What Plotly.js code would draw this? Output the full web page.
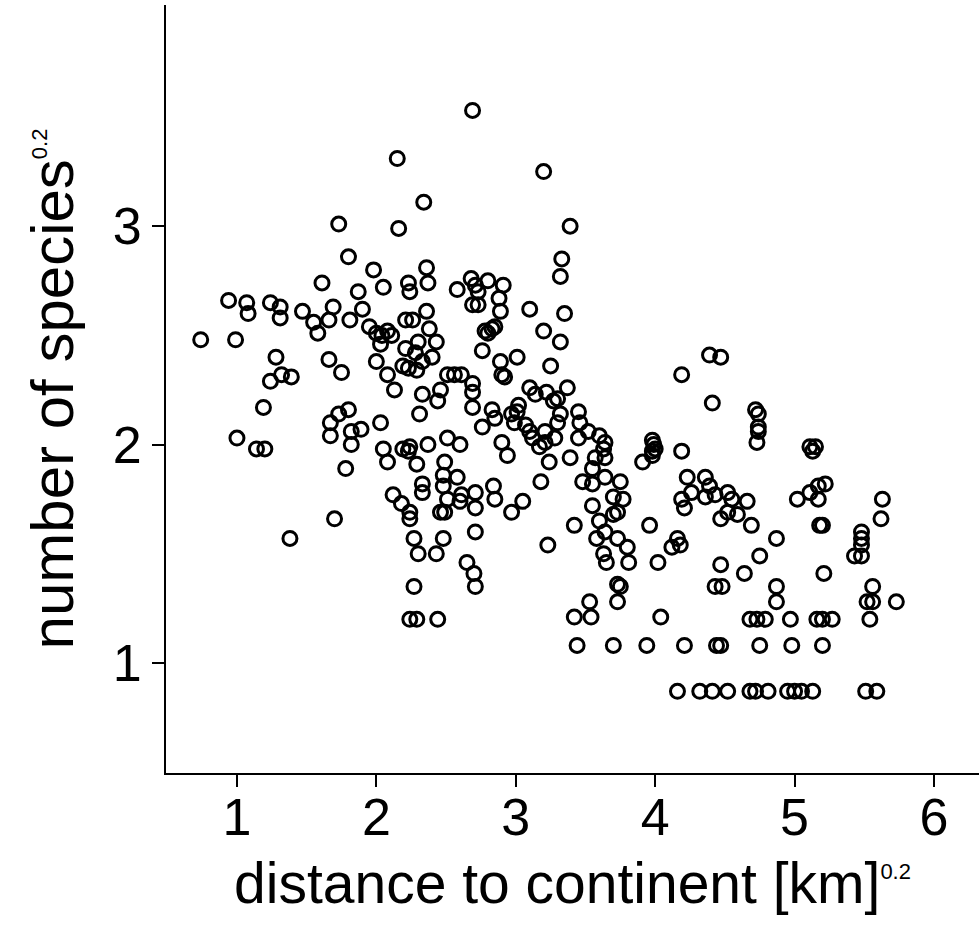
<!DOCTYPE html>
<html>
<head>
<meta charset="utf-8">
<script src="https://cdn.plot.ly/plotly-3.0.1.min.js"></script>
<style>
html,body{margin:0;padding:0;background:#fff;}
#chart{width:979px;height:942px;}
</style>
</head>
<body>
<div id="chart"></div>
<script>
// distance to continent [km]^0.2
const distance = [
1.73,1.80,1.61,1.87,1.98,0.94,1.07,1.08,1.24,1.31,1.31,1.47,1.55,1.58,1.66,1.69,1.81,1.90,1.95,2.00,
2.00,0.74,0.99,1.28,1.24,1.32,1.39,1.66,1.75,1.19,1.67,1.73,1.80,1.67,1.82,1.89,1.82,2.03,1.00,1.14,
1.20,1.78,1.38,1.70,2.69,2.15,3.20,2.34,2.16,2.05,2.23,2.24,2.36,2.37,2.58,2.68,2.71,2.80,2.91,
2.73,2.88,3.39,3.33,3.32,2.04,2.08,2.11,2.03,2.08,2.13,2.21,2.26,2.36,2.38,2.43,2.30,2.21,2.28,2.40,
2.33,2.19,2.23,2.29,2.51,2.56,2.61,2.46,2.33,2.44,2.31,2.69,2.69,2.69,2.69,2.73,2.89,2.78,2.80,2.83,
2.85,2.76,2.89,3.01,2.90,2.92,3.10,3.20,3.10,3.14,3.22,3.27,2.83,2.85,2.76,2.97,3.02,3.01,2.99,3.07,
3.10,3.12,3.21,3.21,3.17,3.24,3.18,2.05,2.08,2.19,2.24,2.23,2.37,2.29,2.51,2.60,2.49,2.48,2.58,2.90,
2.94,2.12,2.18,2.33,2.33,2.48,2.51,2.60,2.61,2.71,2.84,2.85,3.05,2.24,2.24,2.46,2.49,2.71,2.97,3.23,
2.71,2.27,2.48,2.30,2.43,2.65,2.70,2.71,2.27,2.24,2.29,2.44,3.35,3.32,3.25,3.37,3.30,3.32,3.30,3.45,
3.46,3.45,3.52,3.60,3.64,3.63,3.28,3.39,3.57,3.64,3.55,3.48,3.55,3.64,3.75,3.98,3.99,4.00,3.98,3.98,
3.91,4.19,4.19,4.39,4.47,4.41,4.23,4.26,4.36,4.39,4.43,4.52,3.70,3.77,3.55,4.19,4.21,4.36,4.55,4.52,
4.47,3.60,3.73,3.70,3.42,3.58,3.64,3.73,3.80,3.63,3.65,3.81,3.96,4.02,4.12,4.16,4.18,4.47,4.43,4.48,
3.73,3.75,3.73,3.53,3.42,3.54,4.04,3.44,3.70,3.94,4.21,4.44,4.47,4.16,4.32,4.41,4.52,4.72,4.74,4.74,
4.74,4.73,5.11,5.13,5.15,5.22,5.17,5.11,4.66,5.02,5.63,5.17,4.59,4.69,5.20,5.18,5.62,4.87,4.75,5.48,
5.48,5.48,5.43,5.48,4.64,5.21,4.87,4.87,5.56,5.52,5.56,5.73,4.68,4.73,4.79,4.97,5.16,5.20,5.27,5.54,
4.75,4.98,5.20,4.68,4.72,4.81,4.95,5.00,5.05,5.13,5.51,5.59
];
// number of species^0.2
const species = [
3.01,2.86,2.74,2.70,2.80,2.66,2.65,2.60,2.65,2.63,2.58,2.61,2.56,2.51,2.57,2.63,2.57,2.62,2.54,2.51,
2.38,2.48,2.48,2.40,2.29,2.32,2.31,2.39,2.33,2.17,2.10,2.14,2.16,2.04,2.06,2.07,2.00,2.10,2.03,1.98,
1.98,1.89,1.57,1.66,3.53,3.31,3.25,3.11,2.99,2.72,2.74,2.70,2.81,2.74,2.71,2.76,2.73,2.75,2.73,
2.70,2.67,3.00,2.85,2.77,2.50,2.52,2.50,2.46,2.32,2.25,2.57,2.57,2.61,2.53,2.47,2.47,2.44,2.42,2.40,
2.38,2.36,2.35,2.34,2.32,2.32,2.32,2.25,2.23,2.20,2.14,2.28,2.24,2.17,2.64,2.64,2.61,2.52,2.51,2.53,
2.54,2.43,2.38,2.40,2.32,2.31,2.62,2.52,2.26,2.23,2.24,2.20,2.16,2.12,2.08,2.14,2.18,2.15,2.10,2.09,
2.06,2.03,2.06,2.01,1.99,1.92,1.83,1.98,1.92,1.98,1.99,1.97,2.00,1.91,2.03,2.00,1.92,1.86,1.85,2.01,
1.95,1.77,1.73,1.82,1.78,1.81,1.75,1.74,1.77,1.78,1.81,1.75,1.74,1.69,1.66,1.69,1.69,1.71,1.69,1.54,
1.60,1.57,1.57,1.50,1.50,1.46,1.41,1.35,1.35,1.20,1.20,1.20,2.60,2.47,2.36,2.26,2.21,2.14,2.10,2.15,
2.10,2.03,2.06,2.04,2.01,1.98,2.03,1.94,1.94,1.94,1.89,1.83,1.82,1.85,1.83,2.02,2.00,1.98,1.97,1.95,
1.92,1.97,2.32,2.41,2.40,2.19,1.85,1.78,1.85,1.81,1.77,1.78,1.76,1.75,1.72,1.75,1.71,1.76,1.75,1.69,
1.66,1.65,1.69,1.68,1.63,1.57,1.60,1.57,1.53,1.50,1.46,1.46,1.63,1.46,1.53,1.57,1.54,1.45,1.35,1.35,
1.36,1.35,1.28,1.28,1.21,1.21,1.21,1.08,1.08,1.08,1.08,1.08,1.08,0.87,0.87,0.87,0.87,2.16,2.14,2.08,
2.06,2.01,1.99,1.97,1.99,1.82,1.81,1.78,1.74,1.75,1.75,1.75,1.68,1.63,1.63,1.63,1.66,1.57,1.49,1.60,
1.57,1.54,1.49,1.49,1.41,1.41,1.35,1.28,1.35,1.28,1.28,1.28,1.20,1.20,1.20,1.20,1.20,1.20,1.20,1.20,
1.08,1.08,1.08,0.87,0.87,0.87,0.87,0.87,0.87,0.87,0.87,0.87
];
const xTicks = [1, 2, 3, 4, 5, 6];
const xTickText = ["1", "2", "3", "4", "5", "6"];
const yTicks = [1, 2, 3];
const yTickText = ["1", "2", "3"];
const xTitle = 'distance to continent [km]<sup><span style="font-size:22px">0.2</span></sup>';
const yTitle = 'number of species<sup><span style="font-size:22px">0.2</span></sup>';

const font = 'Liberation Sans, Arial, sans-serif';

Plotly.newPlot('chart', [{
  type: 'scatter',
  mode: 'markers',
  x: distance,
  y: species,
  marker: {symbol: 'circle-open', size: 14, color: '#000', line: {width: 3, color: '#000'}},
  hoverinfo: 'x+y'
}], {
  width: 979, height: 942,
  margin: {l: 166, r: 0, t: 5, b: 169},
  paper_bgcolor: '#fff', plot_bgcolor: '#fff',
  showlegend: false,
  font: {family: font, color: '#000'},
  xaxis: {
    range: [0.491, 6.323],
    tickvals: xTicks, ticktext: xTickText,
    showgrid: false, zeroline: false,
    showline: true, linecolor: '#000', linewidth: 2,
    ticks: 'outside', ticklen: 12, tickwidth: 2, tickcolor: '#000',
    ticklabelstandoff: -14,
    tickfont: {family: font, size: 52, color: '#000'},
    title: {text: xTitle, font: {family: font, size: 57, color: '#000'}, standoff: 18}
  },
  yaxis: {
    range: [0.496, 4.013],
    tickvals: yTicks, ticktext: yTickText,
    showgrid: false, zeroline: false,
    showline: true, linecolor: '#000', linewidth: 2,
    ticks: 'outside', ticklen: 12, tickwidth: 2, tickcolor: '#000',
    tickfont: {family: font, size: 52, color: '#000'},
    title: {text: yTitle, font: {family: font, size: 60, color: '#000'}, standoff: 20}
  }
}, {displayModeBar: false, staticPlot: true});
</script>
</body>
</html>
